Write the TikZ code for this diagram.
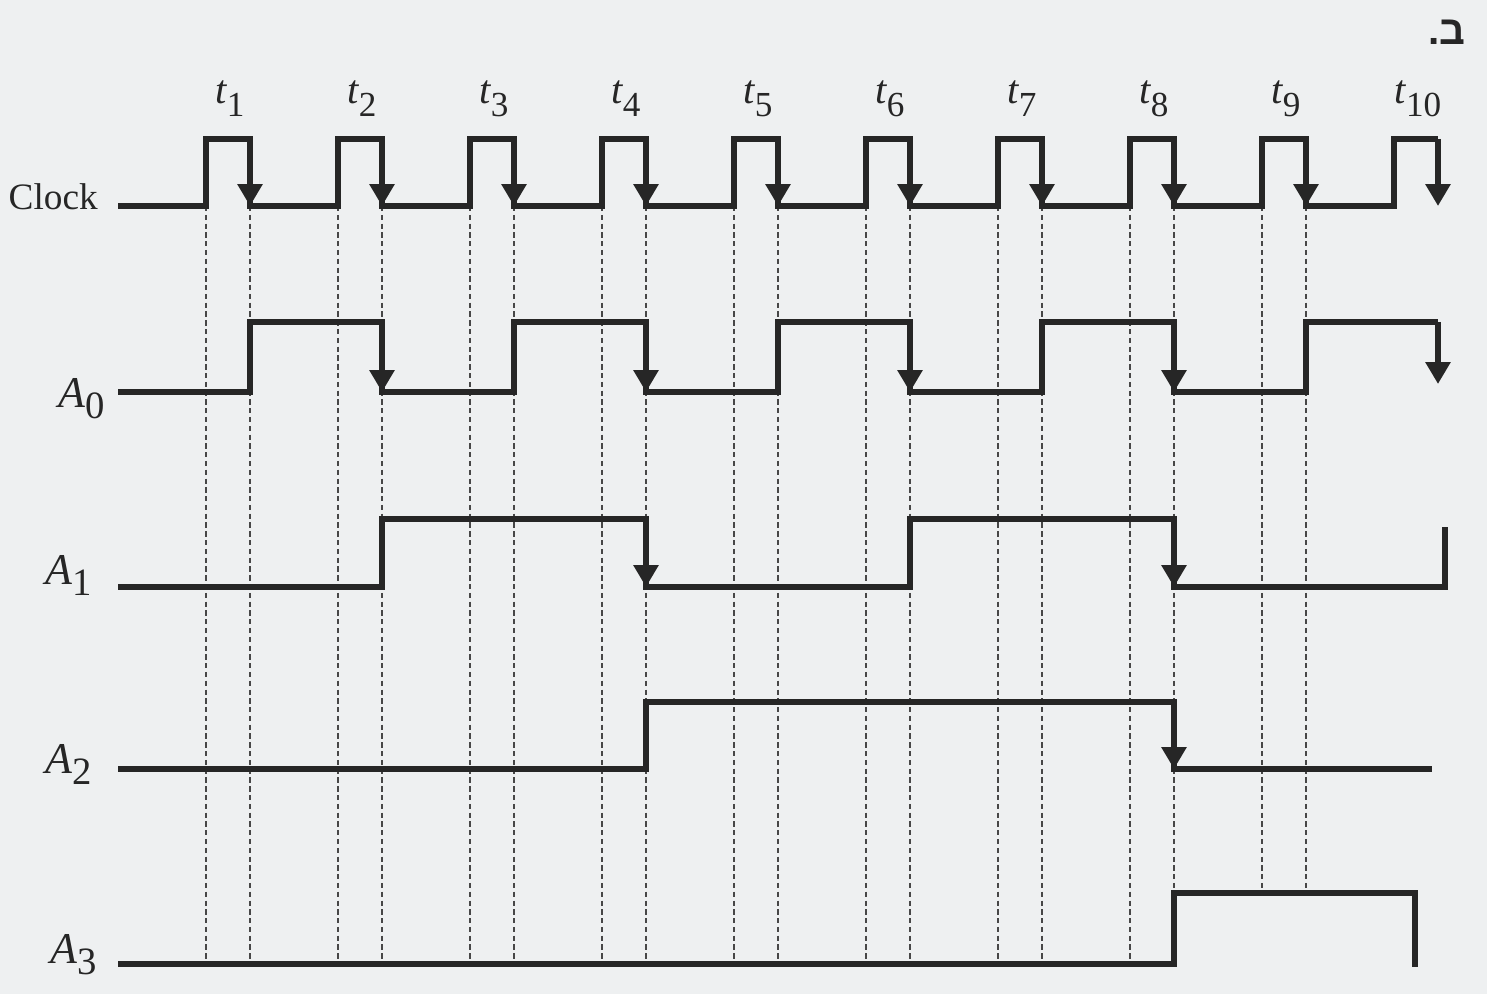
\documentclass[tikz,border=0pt]{standalone}
\usepackage{fontspec}
\setmainfont{Liberation Serif}
\newfontfamily\hebfont[Script=Hebrew]{Liberation Sans}
\TeXXeTstate=1
\usetikzlibrary{arrows.meta}
\definecolor{paper}{RGB}{238,240,241}
\definecolor{ink}{RGB}{38,38,38}
\tikzset{
  wave/.style      = {line width=1.7pt, ink},
  fall/.style      = {-{Triangle[length=6.2pt,width=6.8pt]}, line width=1.7pt, ink},
  guide/.style     = {line width=0.7pt, ink!85, dash pattern=on 1.5pt off 1pt},
  siglabel/.style  = {font=\fontsize{12.5}{14}\selectfont\itshape, text=ink},
  clklabel/.style  = {font=\fontsize{10.6}{12}\selectfont, text=ink},
  tlabel/.style    = {font=\fontsize{11.5}{13}\selectfont\itshape, text=ink},
}
\newcommand{\tlab}[1]{t\raisebox{-3.6pt}{\upshape\fontsize{10}{11}\selectfont #1}}
\newcommand{\alab}[1]{A\raisebox{-3.4pt}{\upshape\fontsize{11}{12}\selectfont #1}}

\begin{document}
\begin{tikzpicture}[
    x=0.01cm, y=-0.01cm,
    every node/.style={inner sep=0pt},
  ]
  \useasboundingbox (0,0) rectangle (1487,994);
  \fill[paper] (0,0) rectangle (1487,994);

  % ---- dashed guides down from every clock edge (t1 ... t9) ---------------
  \foreach \x in {206,250,338,382,470,514,602,646,734,778,866,910,998,1042,1130}
    { \draw[guide] (\x,206) -- (\x,964); }
  \foreach \x in {1174,1262,1306} { \draw[guide] (\x,206) -- (\x,893); }

  % ---- clock: arrows mark the falling edges ------------------------------
  \draw[wave] (118,206)
      foreach \r in {206,338,...,1262} { -- (\r,206) -- (\r,139) -- ++(44,0) -- ++(0,67) }
      -- (1394,206) -- (1394,139) -- (1438,139);
  \foreach \r in {206,338,...,1394} { \draw[fall] ({\r+44},139) -- ({\r+44},206); }
  \foreach \r [count=\k] in {206,338,...,1394}
    { \node[tlabel, anchor=base] (t\k) at ({\r+24},104) {\tlab{\k}}; }

  % ---- A0 ----------------------------------------------------------------
  \draw[wave] (118,392) -| (250,322) -| (382,392) -| (514,322) -| (646,392)
      -| (778,322) -| (910,392) -| (1042,322) -| (1174,392) -| (1306,322) -- (1438,322);
  \foreach \x in {382,646,910,1174} { \draw[fall] (\x,322) -- (\x,392); }
  \draw[fall] (1438,322) -- (1438,384);

  % ---- A1 ----------------------------------------------------------------
  \draw[wave] (118,587) -| (382,519) -| (646,587) -| (910,519) -| (1174,587) -| (1445,527);
  \foreach \x in {646,1174} { \draw[fall] (\x,519) -- (\x,587); }

  % ---- A2 ----------------------------------------------------------------
  \draw[wave] (118,769) -| (646,702) -| (1174,769) -- (1432,769);
  \draw[fall] (1174,702) -- (1174,769);

  % ---- A3 ----------------------------------------------------------------
  \draw[wave] (118,964) -| (1174,893) -| (1415,967);

  % ---- signal names ------------------------------------------------------
  \node[clklabel, anchor=base west] (clk) at (8,210) {Clock};
  \node[siglabel, anchor=base west] (a0) at (58,407) {\alab{0}};
  \node[siglabel, anchor=base west] (a1) at (45,584) {\alab{1}};
  \node[siglabel, anchor=base west] (a2) at (45,773) {\alab{2}};
  \node[siglabel, anchor=base west] (a3) at (50,963) {\alab{3}};
  \node[anchor=base east, text=ink] (part) at (1466,45)
    {\hebfont\bfseries\fontsize{11.5}{12}\selectfont\beginR ב.\endR};
\end{tikzpicture}
\end{document}
